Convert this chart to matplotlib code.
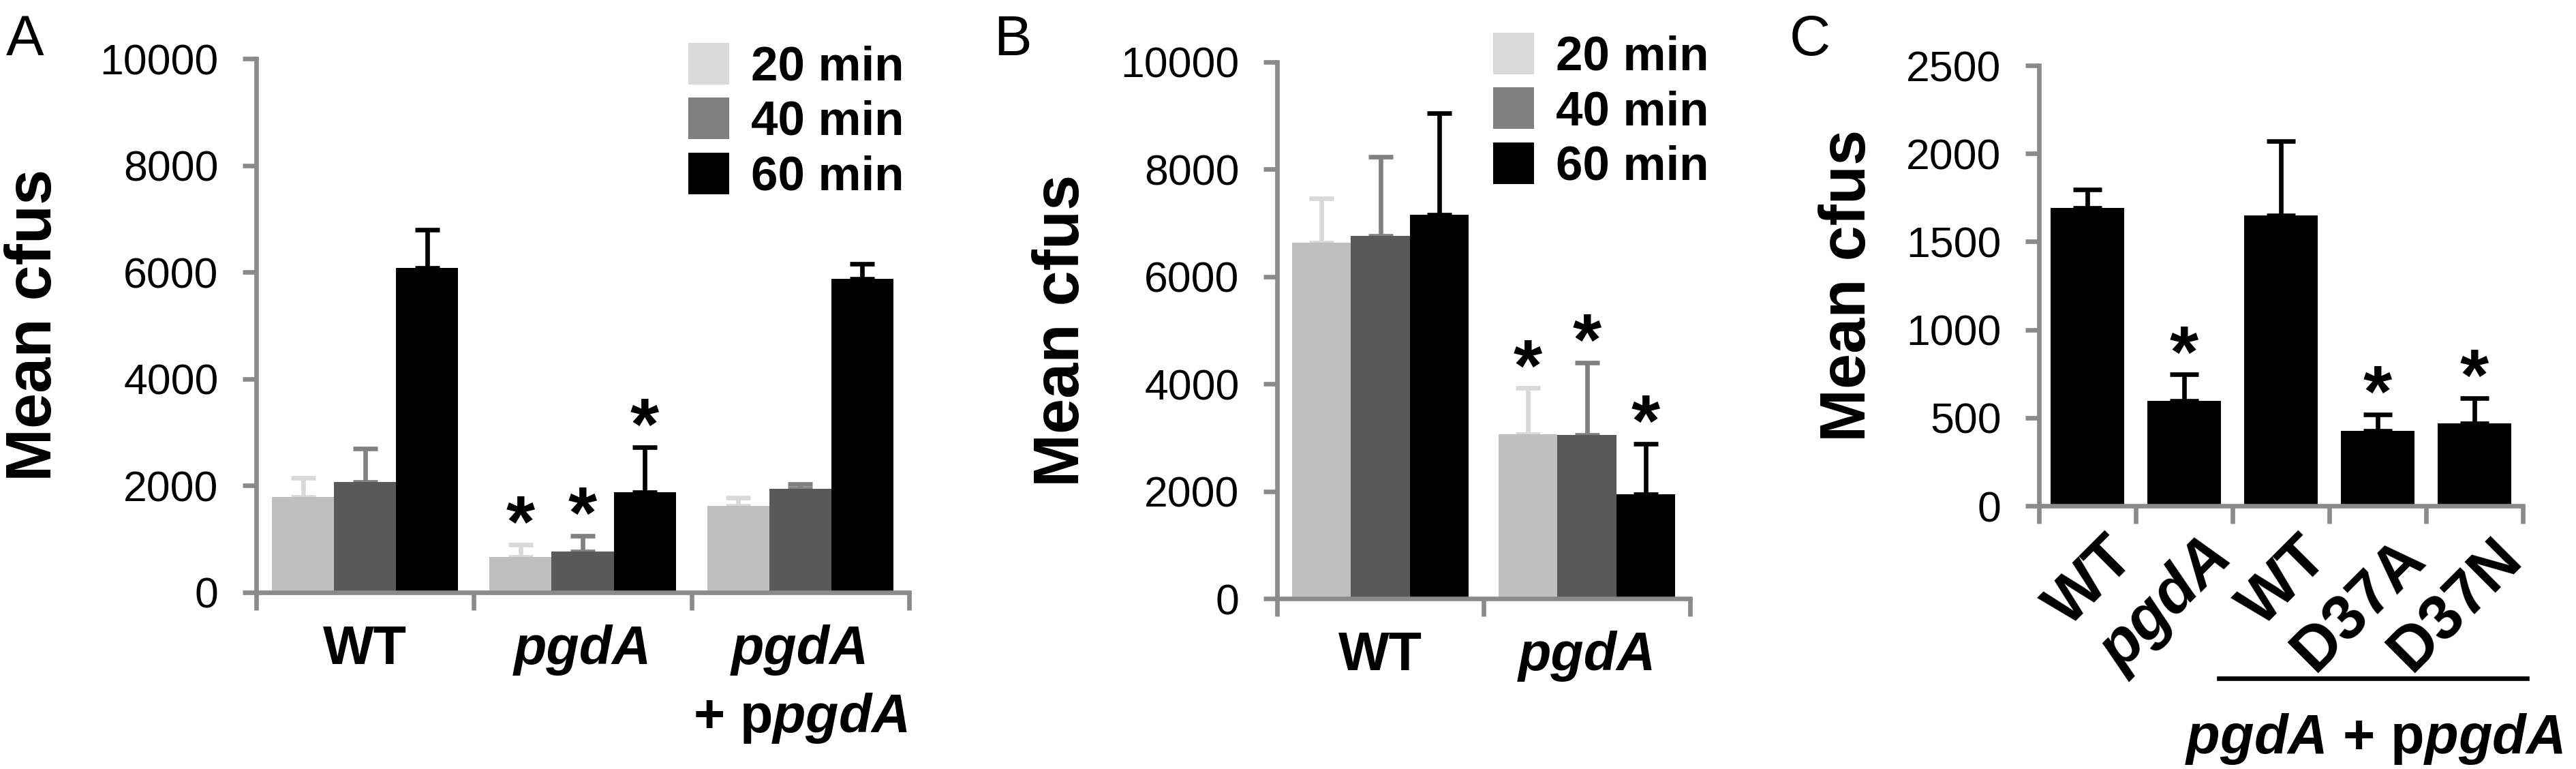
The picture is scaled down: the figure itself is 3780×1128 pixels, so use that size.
import matplotlib
matplotlib.use("Agg")
import matplotlib.pyplot as plt
import numpy as np
from matplotlib.patches import Patch

plt.rcParams['font.family'] = ['Liberation Sans', 'DejaVu Sans']
plt.rcParams['mathtext.fontset'] = 'custom'
plt.rcParams['mathtext.bfit'] = 'Liberation Sans:bold:italic'

# panel A
groups_a = ["WT", "pgdA", "pgdA\n+ ppgdA"]
a_20 = [1790, 670, 1620]
a_20_err = [350, 230, 150]
a_40 = [2070, 760, 1940]
a_40_err = [620, 300, 90]
a_60 = [6080, 1880, 5870]
a_60_err = [720, 840, 290]
a_star = [[False, True, False], [False, True, False], [False, True, False]]

# panel B
groups_b = ["WT", "pgdA"]
b_20 = [6630, 3060]
b_20_err = [830, 860]
b_40 = [6760, 3050]
b_40_err = [1470, 1350]
b_60 = [7160, 1940]
b_60_err = [1890, 950]
b_star = [[False, True], [False, True], [False, True]]

# panel C
labels_c = ["WT", "pgdA", "WT", "D37A", "D37N"]
c_vals = [1690, 595, 1650, 425, 470]
c_err = [105, 150, 420, 95, 140]
c_star = [False, True, False, True, True]

times = ["20 min", "40 min", "60 min"]
bar_cols = ["#bfbfbf", "#595959", "#000000"]
err_cols = ["#d9d9d9", "#808080", "#000000"]
leg_cols = ["#d9d9d9", "#808080", "#000000"]
spine_col = "#8a8a8a"

W, H = 3780, 1128
fig = plt.figure(figsize=(W / 300, H / 300), dpi=300)


def px_axes(x0, x1, y_top, y_bot):
    return fig.add_axes([x0 / W, 1 - y_bot / H, (x1 - x0) / W, (y_bot - y_top) / H])


def style_axis(ax, ymax, step):
    for s in ["top", "right"]:
        ax.spines[s].set_visible(False)
    for s in ["left", "bottom"]:
        ax.spines[s].set_color(spine_col)
        ax.spines[s].set_linewidth(1.6)
    ax.set_ylim(0, ymax)
    ax.set_yticks(np.arange(0, ymax + 1, step))
    ax.tick_params(axis="y", direction="out", length=4.8, width=1.6, color=spine_col,
                   labelsize=15, pad=8.5)


def star(ax, x, y):
    ax.annotate("*", (x, y), xytext=(0, -6), textcoords="offset points", ha="center",
                va="bottom", fontsize=26, fontweight="bold")


def grouped(ax, names, series, errs, stars, ymax, step, leg_xy):
    n = len(names)
    x = np.arange(n)
    w = 0.285
    for i, (vals, er) in enumerate(zip(series, errs)):
        pos = x + (i - 1) * w
        ax.bar(pos, vals, width=w, color=bar_cols[i], zorder=2)
        ax.errorbar(pos, vals, yerr=[np.zeros(n), er], fmt="none", ecolor=err_cols[i],
                    elinewidth=1.6, capsize=4.3, capthick=1.6, zorder=1)
        for j in range(n):
            if stars[i][j]:
                star(ax, pos[j], vals[j] + er[j])
    style_axis(ax, ymax, step)
    ax.set_xlim(-0.5, n - 0.5)
    ax.set_xticks(np.arange(-0.5, n, 1.0))
    ax.set_xticklabels([])
    ax.tick_params(axis="x", direction="out", length=6.2, width=1.6, color=spine_col)
    tr = ax.get_xaxis_transform()
    for j, nm in enumerate(names):
        if nm == "WT":
            ax.text(j, -0.06, "WT", transform=tr, ha="center", va="top",
                    fontsize=19, fontweight="bold")
        else:
            ax.text(j, -0.06, "pgdA", transform=tr, ha="center", va="top",
                    fontsize=19, fontweight="bold", style="italic")
            if "+" in nm:
                ax.text(j, -0.185, "+ p$\\boldsymbol{pgdA}$", transform=tr,
                        ha="center", va="top", fontsize=19, fontweight="bold")
    handles = [Patch(facecolor=c, edgecolor="none") for c in leg_cols]
    ax.legend(handles, times, loc="upper left", bbox_to_anchor=leg_xy, frameon=False,
              prop={"size": 17, "weight": "bold"}, handlelength=0.85, handleheight=0.95,
              handletextpad=0.45, labelspacing=0.15, borderpad=0, borderaxespad=0)


ax_a = px_axes(376, 1334, 86, 869)
grouped(ax_a, groups_a, [a_20, a_40, a_60], [a_20_err, a_40_err, a_60_err], a_star,
        10000, 2000, (0.662, 1.03))

ax_b = px_axes(1874, 2480, 91, 878)
grouped(ax_b, groups_b, [b_20, b_40, b_60], [b_20_err, b_40_err, b_60_err], b_star,
        10000, 2000, (0.523, 1.055))

ax_c = px_axes(2992, 3702, 96, 742)
xc = np.arange(len(labels_c))
ax_c.bar(xc, c_vals, width=0.76, color="black", zorder=2)
ax_c.errorbar(xc, c_vals, yerr=[np.zeros(len(xc)), c_err], fmt="none", ecolor="black",
              elinewidth=1.6, capsize=5, capthick=1.6, zorder=1)
for j in range(len(xc)):
    if c_star[j]:
        star(ax_c, xc[j], c_vals[j] + c_err[j])
style_axis(ax_c, 2500, 500)
ax_c.set_xlim(-0.5, len(xc) - 0.5)
ax_c.set_xticks(np.arange(-0.5, len(xc), 1.0))
ax_c.set_xticklabels([])
ax_c.tick_params(axis="x", direction="out", length=6.2, width=1.6, color=spine_col)
trc = ax_c.get_xaxis_transform()
for j, lb in enumerate(labels_c):
    ax_c.text(xc[j] + 0.18, -0.05, lb, transform=trc, ha="right", va="top",
              rotation=45, rotation_mode="anchor", fontsize=22, fontweight="bold",
              style="italic" if lb == "pgdA" else "normal")
ax_c.plot([1.36, 4.54], [-0.392, -0.392], transform=trc, color="black", lw=1.6, clip_on=False)
ax_c.text(2.96, -0.529, "$\\boldsymbol{pgdA}$ + p$\\boldsymbol{pgdA}$", transform=trc,
          ha="center", va="center", fontsize=19.5, fontweight="bold")

# y labels and panel letters
for xp, yp in [(51, 477), (1559, 485), (2713, 419)]:
    fig.text(xp / W, 1 - yp / H, "Mean cfus", rotation=90, ha="center", va="center",
             fontsize=22.5, fontweight="bold")
for xp, lt in [(9, "A"), (1458, "B"), (2626, "C")]:
    fig.text(xp / W, 1 - 20 / H, lt, ha="left", va="top", fontsize=20)

fig.savefig("out.png", dpi=300)
